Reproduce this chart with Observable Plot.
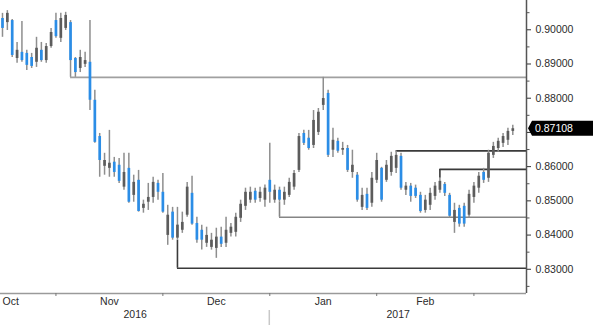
<!DOCTYPE html>
<html><head><meta charset="utf-8">
<script src="https://cdn.jsdelivr.net/npm/d3@7"></script>
<script src="https://cdn.jsdelivr.net/npm/@observablehq/plot@0.6"></script>
<style>body{margin:0;background:#fff}</style>
</head><body><div id="chart"></div>
<script>
// ---- data (EUR/GBP daily, first trading day 2016-10-14) ----
const startDate = "2016-10-14";
const open = [.9033,.9021,.9027,.8916,.8934,.8931,.8919,.8905,.8940,.8910,
.8951,.9027,.8975,.9004,.9021,.8916,.8887,.8899,.8905,.8794,
.8688,.8601,.8595,.8613,.8604,.8540,.8595,.8516,.8560,.8478,
.8496,.8510,.8551,.8525,.8399,.8467,.8391,.8414,.8458,.8522,
.8434,.8414,.8376,.8364,.8361,.8394,.8376,.8405,.8408,.8449,
.8484,.8502,.8528,.8507,.8502,.8560,.8502,.8531,.8502,.8516,
.8540,.8589,.8697,.8683,.8662,.8700,.8779,.8814,.8648,.8674,
.8648,.8653,.8583,.8575,.8481,.8519,.8493,.8560,.8595,.8560,
.8583,.8595,.8630,.8531,.8543,.8537,.8516,.8472,.8487,.8513,
.8531,.8548,.8516,.8437,.8478,.8484,.8458,.8510,.8537,.8583,
.8566,.8633,.8653,.8668,.8677,.8703];
const high = [.9048,.9056,.9030,.8963,.9024,.8940,.8931,.8978,.8963,.8960,
.9004,.9048,.9048,.9051,.9027,.8919,.8940,.8934,.9027,.8823,
.8697,.8639,.8706,.8627,.8624,.8639,.8639,.8575,.8589,.8502,
.8551,.8569,.8560,.8580,.8487,.8481,.8481,.8467,.8554,.8572,
.8452,.8429,.8423,.8405,.8420,.8423,.8452,.8434,.8464,.8502,
.8537,.8540,.8537,.8540,.8546,.8668,.8546,.8540,.8540,.8566,
.8589,.8697,.8706,.8706,.8764,.8770,.8861,.8823,.8712,.8683,
.8671,.8662,.8648,.8583,.8537,.8537,.8583,.8639,.8598,.8618,
.8642,.8646,.8639,.8554,.8551,.8546,.8525,.8516,.8537,.8554,
.8566,.8554,.8522,.8493,.8487,.8493,.8531,.8554,.8583,.8595,
.8648,.8671,.8683,.8697,.8712,.8721];
const low = [.8978,.8998,.8919,.8902,.8905,.8881,.8887,.8890,.8905,.8902,
.8946,.8975,.8963,.8998,.8861,.8861,.8875,.8890,.8764,.8668,
.8569,.8575,.8569,.8569,.8551,.8531,.8493,.8496,.8467,.8464,
.8472,.8493,.8502,.8464,.8370,.8385,.8385,.8405,.8452,.8429,
.8376,.8356,.8364,.8356,.8332,.8364,.8364,.8394,.8394,.8437,
.8472,.8493,.8493,.8496,.8481,.8493,.8493,.8496,.8487,.8510,
.8531,.8583,.8662,.8648,.8653,.8691,.8764,.8627,.8627,.8639,
.8633,.8583,.8566,.8496,.8472,.8472,.8481,.8551,.8496,.8554,
.8572,.8580,.8531,.8516,.8496,.8507,.8464,.8464,.8472,.8502,
.8522,.8513,.8449,.8405,.8423,.8423,.8449,.8493,.8522,.8551,
.8554,.8624,.8642,.8656,.8662,.8691];
const close = [.9004,.9048,.8925,.8940,.8910,.8896,.8893,.8946,.8910,.8951,
.8992,.8980,.9033,.9042,.8910,.8875,.8919,.8910,.8794,.8671,
.8618,.8618,.8610,.8583,.8557,.8583,.8496,.8554,.8469,.8490,
.8510,.8554,.8525,.8467,.8458,.8391,.8429,.8437,.8540,.8432,
.8385,.8385,.8399,.8385,.8394,.8373,.8414,.8423,.8452,.8490,
.8525,.8525,.8502,.8525,.8537,.8525,.8531,.8502,.8525,.8554,
.8580,.8688,.8668,.8653,.8735,.8759,.8799,.8633,.8677,.8645,
.8653,.8589,.8604,.8502,.8516,.8478,.8566,.8618,.8502,.8604,
.8630,.8633,.8537,.8543,.8513,.8513,.8469,.8502,.8522,.8543,
.8557,.8522,.8455,.8472,.8432,.8432,.8519,.8543,.8572,.8560,
.8639,.8659,.8674,.8688,.8703,.87108];

// support / resistance levels drawn on the chart
const levelValues = [0.8861, 0.8303, 0.8452, 0.8646, 0.8592];
const levelStartDay = [14, 36, 57, 81, 90];
const levelTone = ["light", "dark", "mid", "dark", "dark"];

// axis ticks
const yTicks = [0.83, 0.84, 0.85, 0.86, 0.87, 0.88, 0.89, 0.90];
const yMinorTicks = [0.825, 0.835, 0.845, 0.855, 0.865, 0.875, 0.885, 0.895, 0.905];
const monthNames = ["Jan","Feb","Mar","Apr","May","Jun","Jul","Aug","Sep","Oct","Nov","Dec"];
const lastPrice = 0.87108;

// ---- derived ----
const dates = [];
{
  let d = new Date(startDate + "T00:00:00Z");
  while (dates.length < close.length) {
    const wd = d.getUTCDay();
    if (wd !== 0 && wd !== 6) dates.push(new Date(d));
    d = new Date(d.getTime() + 86400000);
  }
}
const candles = close.map((c, i) => ({i, open: open[i], high: high[i], low: low[i], close: c,
  body: c >= open[i] ? "#5c5c5c" : "#2b8de6"}));

const xDomain = [-0.41, 107.82];
const yDomain = [0.82292, 0.90856];

const monthEnds = d3.range(close.length - 1).filter(i => dates[i + 1].getUTCMonth() !== dates[i].getUTCMonth());
const firstMonth = [{x: 0, label: monthNames[dates[0].getUTCMonth()]}];
const monthLabels = [];
for (let j = 0; j < monthEnds.length - 1; j++)
  monthLabels.push({x: (monthEnds[j] + monthEnds[j + 1]) / 2, label: monthNames[dates[monthEnds[j] + 1].getUTCMonth()]});
const yearEnds = d3.range(close.length - 1).filter(i => dates[i + 1].getUTCFullYear() !== dates[i].getUTCFullYear());
const yearBounds = [xDomain[0], ...yearEnds, xDomain[1]];
const yearLabels = [];
for (let j = 0; j < yearBounds.length - 1; j++) {
  const idx = j === 0 ? 0 : yearEnds[j - 1] + 1;
  yearLabels.push({x: (yearBounds[j] + yearBounds[j + 1]) / 2, label: String(dates[idx].getUTCFullYear())});
}

const toneColor = {light: "#a0a0a0", mid: "#858585", dark: "#3a3a3a"};
const levels = levelValues.map((v, j) => {
  const c = candles[levelStartDay[j]];
  const anchor = v < c.low ? c.low : (v > c.high ? c.high : v);
  return {v, start: levelStartDay[j], end: xDomain[1], anchor, color: toneColor[levelTone[j]]};
});

// the last-price tag covers the tick label next to it
const fmt = d3.format(".5f");
const tickLabel = t => Math.abs(t - lastPrice) < 0.004 ? "" : fmt(t);

const plot = Plot.plot({
  width: 600, height: 325,
  marginLeft: 0, marginRight: 74, marginTop: 0, marginBottom: 32,
  style: {fontFamily: "'Liberation Sans', Arial, sans-serif", fontSize: "10.5px", color: "#2b2b2b", background: "#fff"},
  x: {domain: xDomain, axis: null},
  y: {domain: yDomain, axis: null},
  color: {type: "identity"},
  marks: [
    Plot.ruleY(levels, {y: "v", x1: "start", x2: "end", stroke: "color", strokeWidth: 1.6}),
    Plot.ruleX(levels, {x: "start", y1: "anchor", y2: "v", stroke: "color", strokeWidth: 1.6}),
    Plot.ruleX(candles, {x: "i", y1: "low", y2: "high", stroke: "#8e8e8e", strokeWidth: 1.5}),
    Plot.ruleX(candles, {x: "i", y1: "open", y2: "close", stroke: "body", strokeWidth: 2.7}),
    Plot.ruleY([yDomain[0]], {stroke: "#9a9a9a", strokeWidth: 1.5}),
    Plot.ruleX([xDomain[1]], {stroke: "#555", strokeWidth: 1.5}),
    Plot.axisY(yTicks, {anchor: "right", tickSize: 4, tickPadding: 5, tickFormat: tickLabel, stroke: "#333"}),
    Plot.axisY(yMinorTicks, {anchor: "right", tickSize: 2.5, tickFormat: () => "", stroke: "#555"}),
    Plot.axisX(monthEnds, {anchor: "bottom", tickSize: 3, tickFormat: () => "", stroke: "#777"}),
    Plot.text(firstMonth, {x: "x", text: "label", frameAnchor: "bottom", dy: 11, textAnchor: "start"}),
    Plot.text(monthLabels, {x: "x", text: "label", frameAnchor: "bottom", dy: 11}),
    Plot.text(yearLabels, {x: "x", text: "label", frameAnchor: "bottom", dy: 24})
  ]
});

document.getElementById("chart").append(plot);

// decorations using the plot's own scales
const sx = plot.scale("x"), sy = plot.scale("y");
const svg = d3.select(plot);
yearEnds.forEach(i => {
  svg.append("line").attr("x1", sx.apply(i)).attr("x2", sx.apply(i))
    .attr("y1", 310).attr("y2", 325).attr("stroke", "#c8c8c8").attr("stroke-width", 1.5);
});
const px = sx.apply(xDomain[1]);
const py = sy.apply(lastPrice);
const g = svg.append("g").attr("text-anchor", "start");
g.append("path")
  .attr("d", `M${px + 2},${py} L${px + 6},${py - 7.5} H${px + 67} V${py + 7.5} H${px + 6} Z`)
  .attr("fill", "#000");
g.append("text").attr("x", px + 9).attr("y", py).attr("dy", "0.35em")
  .attr("fill", "#fff").attr("font-size", "10.5px").attr("text-anchor", "start")
  .text(fmt(lastPrice));
</script>
</body></html>
